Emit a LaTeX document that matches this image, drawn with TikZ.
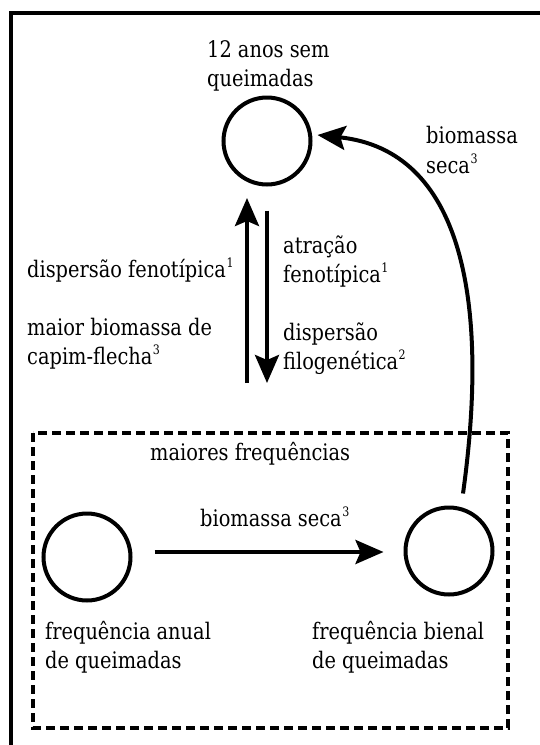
\documentclass[tikz,border=0pt]{standalone}
\usepackage{fontspec}
\setmainfont{DejaVu Serif}[FakeStretch=0.85]
\usetikzlibrary{arrows.meta}
\newcommand\supn[1]{\kern0.5pt\raisebox{10pt}{\fontsize{13}{13}\selectfont #1}}
\begin{document}
\begin{tikzpicture}[x=1pt,y=-1pt,
  frameline/.style={line width=4pt,line join=miter},
  groupbox/.style={line width=3.6pt,dash pattern=on 9pt off 5pt},
  circ/.style={circle,draw,line width=4pt,minimum size=87pt,inner sep=0pt},
  arr/.style={line width=4pt,-{Stealth[length=28pt,width=24pt,inset=5pt]}},
  lbl/.style={anchor=base west,inner sep=0pt,font=\fontsize{22.8}{29}\selectfont}]
\useasboundingbox (0,0) rectangle (540,745);
\fill[white] (0,0) rectangle (540,745);
% open frame
\draw[frameline] (11,745) -- (11,13) -- (540,13);
% dashed group
\draw[groupbox] (33,433) rectangle (508,728);
% states
\node[circ] (top) at (267,141) {};
\node[circ] (anual) at (87,557) {};
\node[circ] (bienal) at (449,551) {};
% labels
\node[lbl] (t1a) at (207,57) {12 anos sem};
\node[lbl] (t1b) at (207,86) {queimadas};
\node[lbl] (l1) at (27,277) {dispersão fenotípica\supn{1}};
\node[lbl] (l2a) at (27,335) {maior biomassa de};
\node[lbl] (l2b) at (27,364) {capim-flecha\supn{3}};
\node[lbl] (r1a) at (283,253) {atração};
\node[lbl] (r1b) at (283,282) {fenotípica\supn{1}};
\node[lbl] (r2a) at (283,340) {dispersão};
\node[lbl] (r2b) at (283,369) {filogenética\supn{2}};
\node[lbl] (c1a) at (426,143) {biomassa};
\node[lbl] (c1b) at (426,173) {seca\supn{3}};
\node[lbl] (g) at (150,460) {maiores frequências};
\node[lbl] (h) at (200,526) {biomassa seca\supn{3}};
\node[lbl] (a1) at (45,639) {frequência anual};
\node[lbl] (a2) at (45,668) {de queimadas};
\node[lbl] (b1) at (312,639) {frequência bienal};
\node[lbl] (b2) at (312,668) {de queimadas};
% connectors
\coordinate (uptail) at (247,383);
\coordinate (uptip) at (247,198);
\coordinate (downtip) at (267,383);
\draw[arr] (uptail) -- (uptip);
\draw[arr] ([yshift=-24pt]top.south) -- (downtip);
\draw[arr] ([xshift=22pt,yshift=5pt]anual.east) -- ([xshift=-20pt,yshift=-1pt]bienal.west);
\draw[arr] ([xshift=14pt,yshift=12pt]bienal.north) .. controls (490,300) and (462,150) .. ([xshift=5pt,yshift=6pt]top.east);
\end{tikzpicture}
\end{document}
